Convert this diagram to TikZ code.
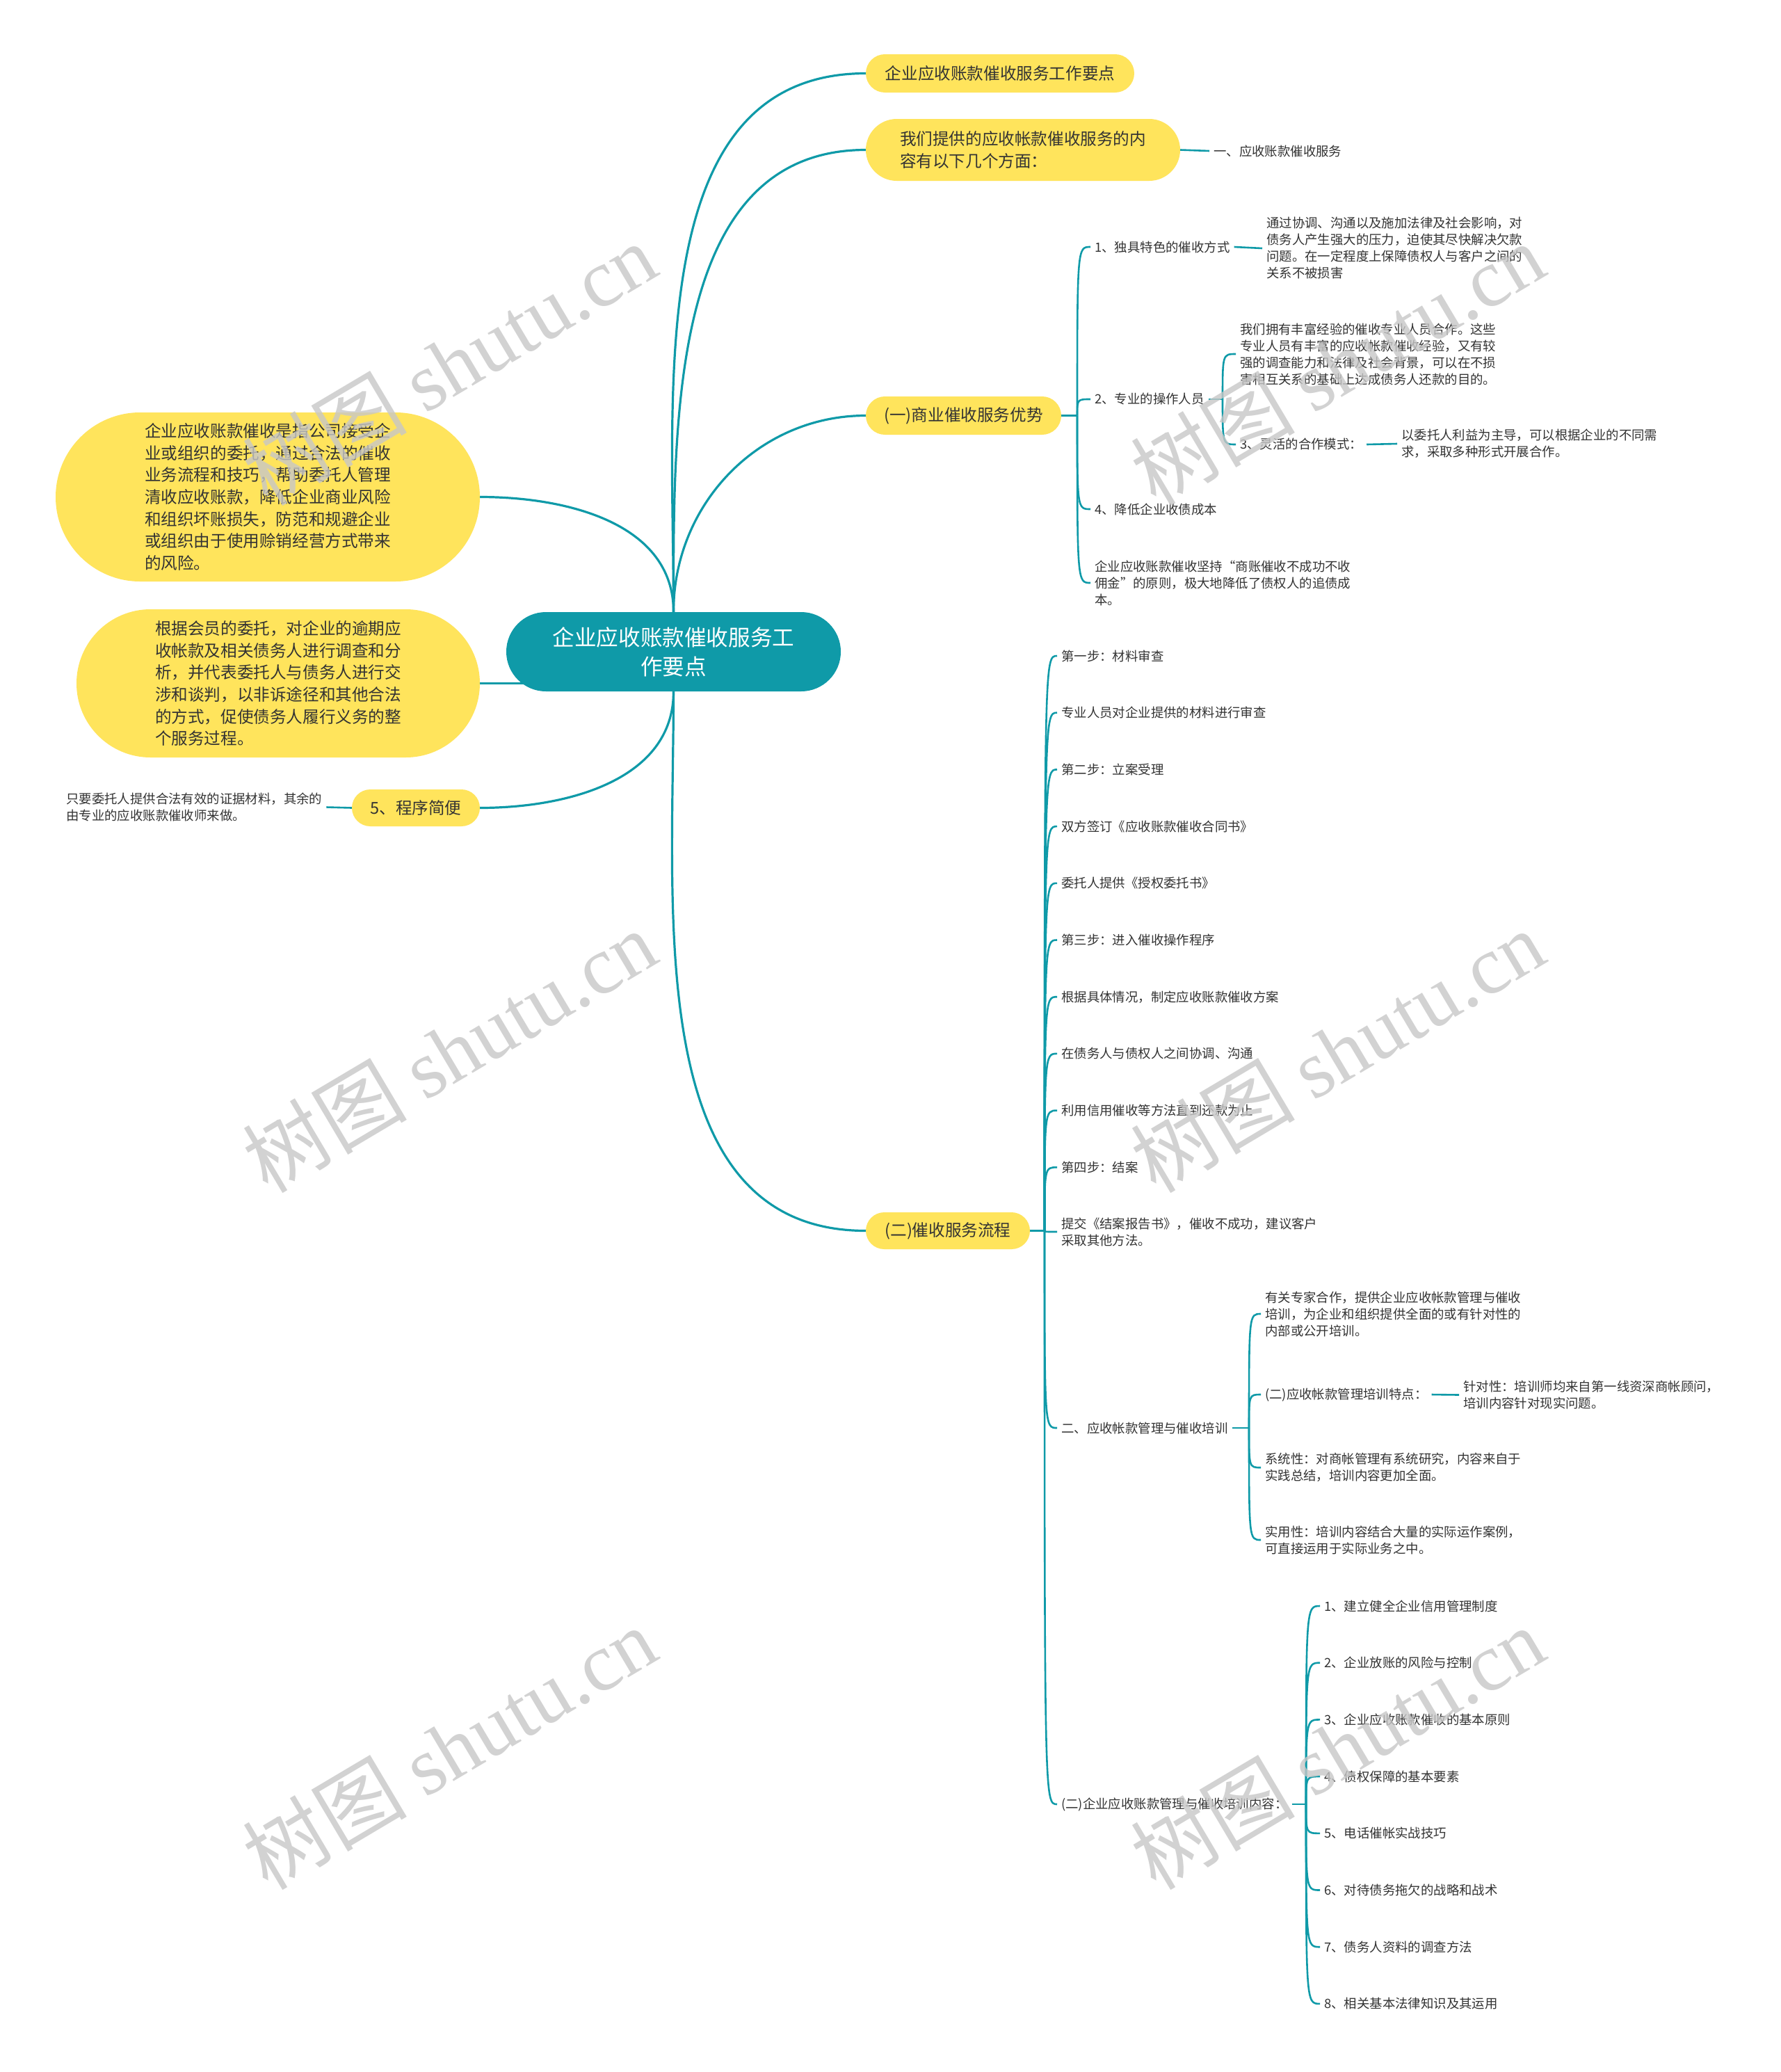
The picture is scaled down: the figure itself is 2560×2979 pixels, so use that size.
\documentclass[tikz,border=0pt]{standalone}
\usepackage{fontspec}
\setmainfont{Noto Sans CJK SC}
\newfontfamily\wmlatin{Liberation Serif}
\usetikzlibrary{calc}
\definecolor{tealc}{HTML}{0F9AA8}
\definecolor{yel}{HTML}{FFE45C}
\definecolor{txt}{HTML}{333333}
\pgfdeclarelayer{back}
\pgfdeclarelayer{bg}
\pgfsetlayers{back,bg,main}
\begin{document}
\begin{tikzpicture}[x=1pt,y=-1pt,
  small/.style={font=\fontsize{18.4}{24}\selectfont, text=txt, anchor=west, inner sep=6pt, align=left},
  ybox/.style={fill=yel, text=txt, font=\fontsize{23.6}{31.7}\selectfont, align=left, inner sep=0pt},
  conn/.style={draw=tealc, line width=3.2pt},
  brk/.style={draw=tealc, line width=2.6pt},
  wm/.style={font=\fontsize{118}{120}\selectfont, text=black!22, opacity=0.8, rotate=30.7}
]
\begin{pgfonlayer}{back}
\fill[white] (0,0) rectangle (2560,2979);
\end{pgfonlayer}
\useasboundingbox (0,0) rectangle (2560,2979);

% central
\node[fill=tealc, text=white, font=\fontsize{31.6}{42}\selectfont, align=center,
  minimum width=481pt, minimum height=114pt, rounded corners=57pt, inner sep=0pt] (c) at (968.5,937) {企业应收账款催收服务工\\作要点};

% yellow nodes
\node[ybox, minimum width=386pt, minimum height=55pt, rounded corners=27.5pt] (t1) at (1438,105.5) {企业应收账款催收服务工作要点};
\node[ybox, minimum width=452pt, minimum height=89pt, rounded corners=44.5pt] (t2) at (1471,215.5) {我们提供的应收帐款催收服务的内\\容有以下几个方面：};
\node[ybox, minimum width=281pt, minimum height=55pt, rounded corners=27.5pt] (f1) at (1385.5,597.5) {(一)商业催收服务优势};
\node[ybox, minimum width=236pt, minimum height=53pt, rounded corners=26.5pt] (f2) at (1363,1769.5) {(二)催收服务流程};
\node[ybox, minimum width=610pt, minimum height=243pt, rounded corners=121.5pt] (n1) at (385,714.5) {企业应收账款催收是指公司接受企\\业或组织的委托，通过合法的催收\\业务流程和技巧，帮助委托人管理\\清收应收账款，降低企业商业风险\\和组织坏账损失，防范和规避企业\\或组织由于使用赊销经营方式带来\\的风险。};
\node[ybox, minimum width=580pt, minimum height=213pt, rounded corners=106.5pt] (n2) at (400,982.5) {根据会员的委托，对企业的逾期应\\收帐款及相关债务人进行调查和分\\析，并代表委托人与债务人进行交\\涉和谈判，以非诉途径和其他合法\\的方式，促使债务人履行义务的整\\个服务过程。};
\node[ybox, minimum width=184pt, minimum height=53pt, rounded corners=26.5pt] (p5) at (598,1161.5) {5、程序简便};

% small texts
\node[small] (p5t) at (89,1160.5) {只要委托人提供合法有效的证据材料，其余的\\由专业的应收账款催收师来做。};
\node[small] (t2a) at (1739,217) {一、应收账款催收服务};

% branch (一)
\coordinate (s1) at (1549,597.5);
\node[small] (a1) at (1568,355) {1、独具特色的催收方式};
\node[small] (a1t) at (1815,357) {通过协调、沟通以及施加法律及社会影响，对\\债务人产生强大的压力，迫使其尽快解决欠款\\问题。在一定程度上保障债权人与客户之间的\\关系不被损害};
\node[small] (a2) at (1568,574) {2、专业的操作人员};
\coordinate (s2) at (1758,574);
\node[small] (a2a) at (1777,509) {我们拥有丰富经验的催收专业人员合作。这些\\专业人员有丰富的应收帐款催收经验，又有较\\强的调查能力和法律及社会背景，可以在不损\\害相互关系的基础上达成债务人还款的目的。};
\node[small] (a2b) at (1777,639) {3、灵活的合作模式：};
\node[small] (a2bt) at (2009,638) {以委托人利益为主导，可以根据企业的不同需\\求，采取多种形式开展合作。};
\node[small] (a3) at (1568,732) {4、降低企业收债成本};
\node[small] (a4) at (1568,838) {企业应收账款催收坚持“商账催收不成功不收\\佣金”的原则，极大地降低了债权人的追债成\\本。};

% branch (二)
\coordinate (s3) at (1502,1769.5);
\node[small] (b1) at (1520,943) {第一步：材料审查};
\node[small] (b2) at (1520,1024.7) {专业人员对企业提供的材料进行审查};
\node[small] (b3) at (1520,1106.4) {第二步：立案受理};
\node[small] (b4) at (1520,1188.1) {双方签订《应收账款催收合同书》};
\node[small] (b5) at (1520,1269.8) {委托人提供《授权委托书》};
\node[small] (b6) at (1520,1351.5) {第三步：进入催收操作程序};
\node[small] (b7) at (1520,1433.2) {根据具体情况，制定应收账款催收方案};
\node[small] (b8) at (1520,1514.9) {在债务人与债权人之间协调、沟通};
\node[small] (b9) at (1520,1596.6) {利用信用催收等方法直到还款为止};
\node[small] (b10) at (1520,1678.3) {第四步：结案};
\node[small] (b11) at (1520,1771) {提交《结案报告书》，催收不成功，建议客户\\采取其他方法。};
\node[small] (b12) at (1520,2053) {二、应收帐款管理与催收培训};
\node[small] (b13) at (1520,2594) {(二)企业应收账款管理与催收培训内容：};

\coordinate (s4) at (1796,2053);
\node[small] (c1) at (1813,1889) {有关专家合作，提供企业应收帐款管理与催收\\培训，为企业和组织提供全面的或有针对性的\\内部或公开培训。};
\node[small] (c2) at (1813,2005) {(二)应收帐款管理培训特点：};
\node[small] (c2t) at (2098,2005.5) {针对性：培训师均来自第一线资深商帐顾问，\\培训内容针对现实问题。};
\node[small] (c3) at (1813,2110) {系统性：对商帐管理有系统研究，内容来自于\\实践总结，培训内容更加全面。};
\node[small] (c4) at (1813,2214) {实用性：培训内容结合大量的实际运作案例，\\可直接运用于实际业务之中。};

\coordinate (s5) at (1878,2594);
\node[small] (d1) at (1898,2309) {1、建立健全企业信用管理制度};
\node[small] (d2) at (1898,2390.7) {2、企业放账的风险与控制};
\node[small] (d3) at (1898,2472.4) {3、企业应收账款催收的基本原则};
\node[small] (d4) at (1898,2554.1) {4、债权保障的基本要素};
\node[small] (d5) at (1898,2635.8) {5、电话催帐实战技巧};
\node[small] (d6) at (1898,2717.5) {6、对待债务拖欠的战略和战术};
\node[small] (d7) at (1898,2799.2) {7、债务人资料的调查方法};
\node[small] (d8) at (1898,2880.9) {8、相关基本法律知识及其运用};

\begin{pgfonlayer}{bg}
\draw[conn] (c.north) to[out=90,in=180] (t1.west);
\draw[conn] (c.north) to[out=90,in=180] (t2.west);
\draw[conn] (c.north) to[out=90,in=180] (f1.west);
\draw[conn] (n1.east) to[out=0,in=90] (c.north);
\draw[conn] (n2.east) -- (c.center |- n2.east);
\draw[conn] (p5.east) to[out=0,in=-90] (c.south);
\draw[conn] (c.south) to[out=-90,in=180] (f2.west);
\draw[brk] (p5t.east) -- (p5.west);
\draw[brk] (t2.east) -- (t2a.west);
% (一)
\draw[brk] (f1.east) -- (s1);
\foreach \k in {a1,a2,a3,a4}{
  \draw[brk] (s1) .. controls (s1 |- \k.west) and (s1 |- \k.west) .. (\k.west);
}
\draw[brk] (a1.east) -- (a1t.west);
\draw[brk] (a2.east) -- (s2);
\foreach \k in {a2a,a2b}{
  \draw[brk] (s2) .. controls (s2 |- \k.west) and (s2 |- \k.west) .. (\k.west);
}
\draw[brk] (a2b.east) -- (a2bt.west);
% (二)
\draw[brk] (f2.east) -- (s3);
\foreach \k in {b1,b2,b3,b4,b5,b6,b7,b8,b9,b10,b11,b12,b13}{
  \draw[brk] (s3) .. controls (s3 |- \k.west) and (s3 |- \k.west) .. (\k.west);
}
\draw[brk] (b12.east) -- (s4);
\foreach \k in {c1,c2,c3,c4}{
  \draw[brk] (s4) .. controls (s4 |- \k.west) and (s4 |- \k.west) .. (\k.west);
}
\draw[brk] (c2.east) -- (c2t.west);
\draw[brk] (b13.east) -- (s5);
\foreach \k in {d1,d2,d3,d4,d5,d6,d7,d8}{
  \draw[brk] (s5) .. controls (s5 |- \k.west) and (s5 |- \k.west) .. (\k.west);
}
\end{pgfonlayer}

% watermarks
\foreach \wx/\wy in {646/523, 646/1511, 646/2513, 1923/523, 1923/1511, 1923/2513}{
  \node[wm] at (\wx,\wy) {树图 {\wmlatin shutu.cn}};
}
\end{tikzpicture}
\end{document}
